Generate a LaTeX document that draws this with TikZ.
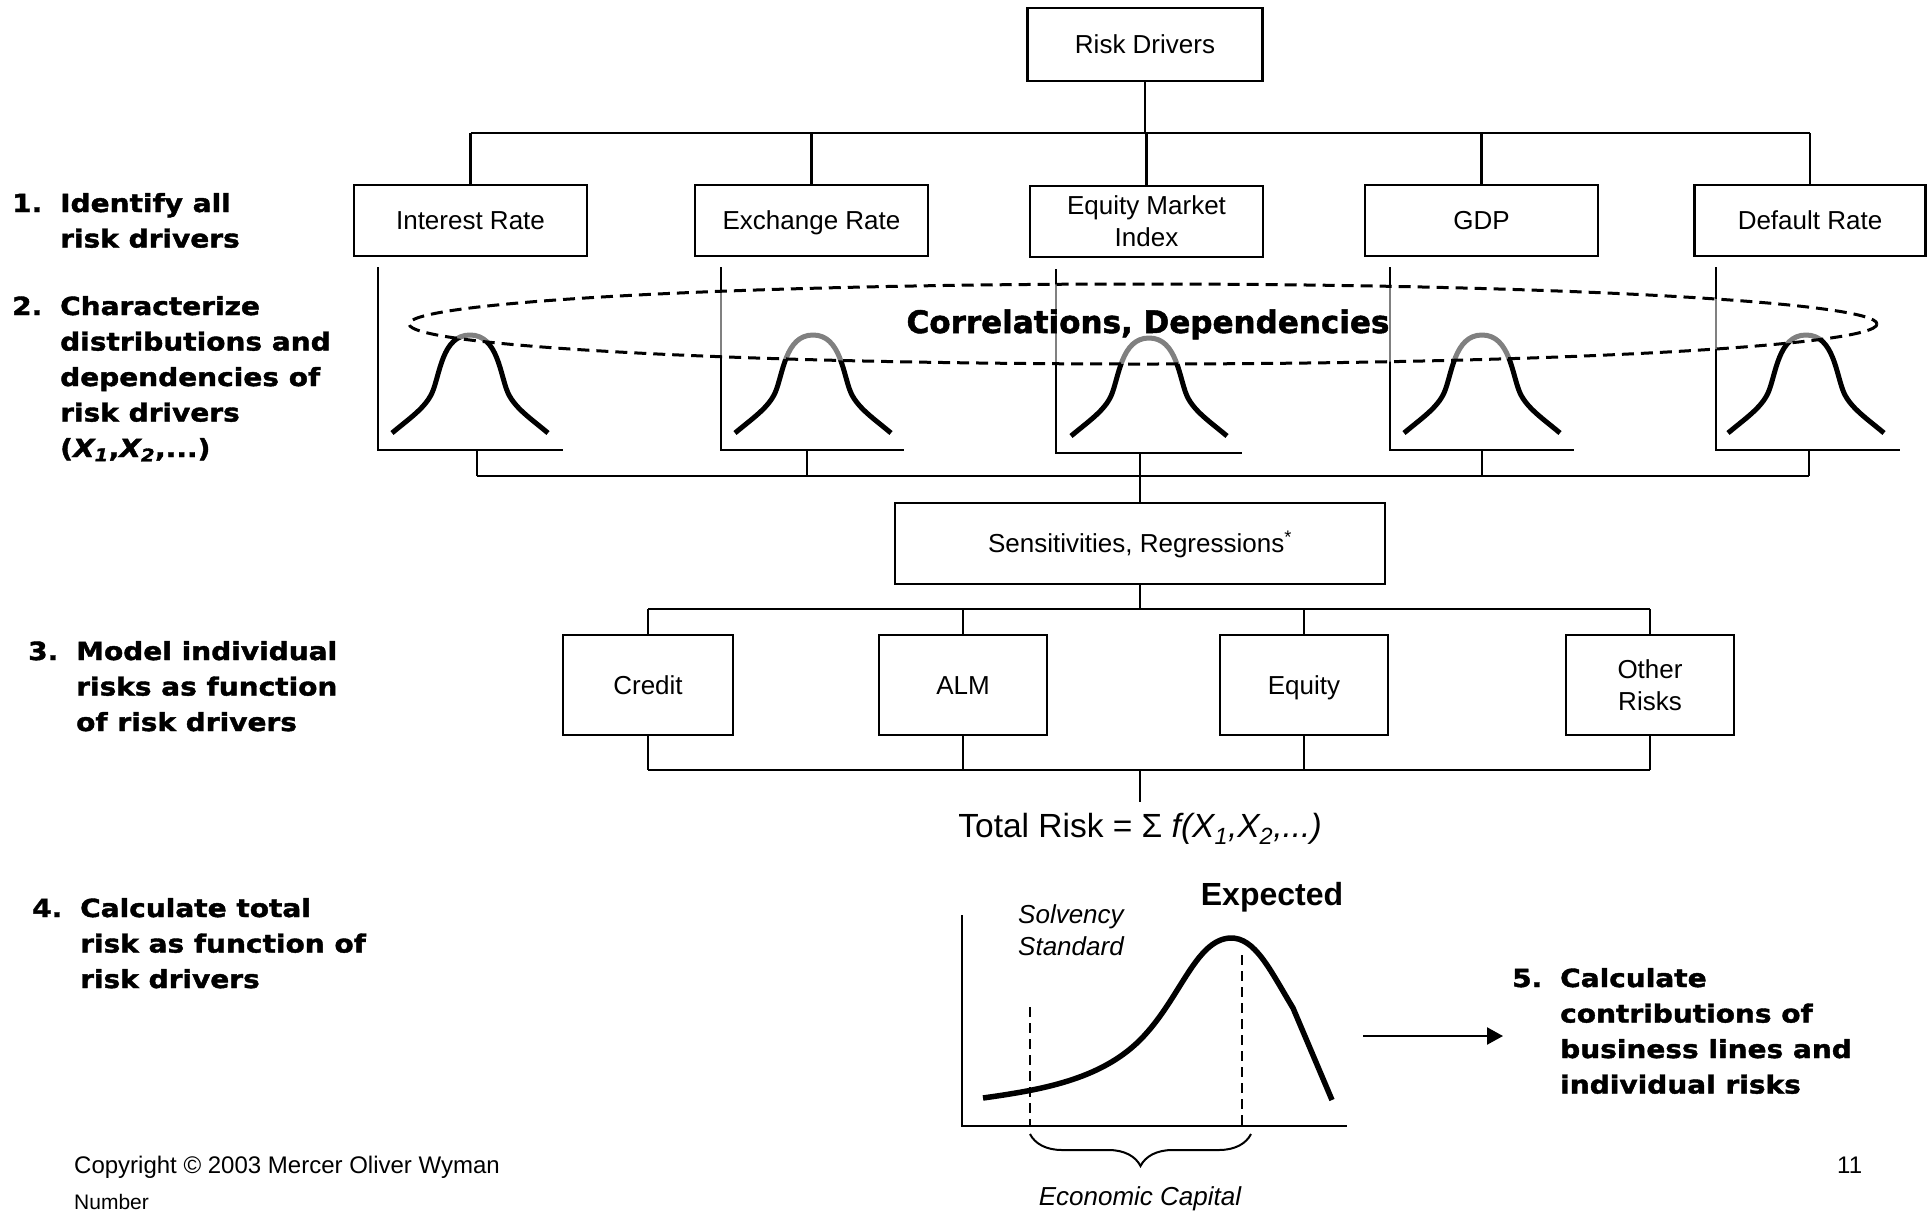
\documentclass[tikz,border=0pt]{standalone}
\usepackage{fontspec}
\setmainfont{Liberation Sans}
\newfontfamily\heavyfont{DejaVu Sans Bold}[ItalicFont={DejaVu Sans Bold Oblique}, FakeStretch=1.12, FakeBold=1.6]
\newfontfamily\corrfont{DejaVu Sans Bold}[FakeBold=1.6]
\usetikzlibrary{decorations.pathreplacing,arrows.meta}
\begin{document}
\begin{tikzpicture}[x=1pt,y=-1pt,
  box/.style={draw, line width=2.6pt, inner sep=0pt, align=center,
    font=\fontsize{26}{32}\selectfont},
  onebox/.style={box, text height=18.6pt, text depth=0pt},
  conn/.style={line width=2.4pt},
  axisline/.style={line width=2.6pt},
  bellline/.style={line width=5pt, line join=round},
  stepitem/.style={anchor=base west, inner sep=0pt,
    font=\heavyfont\fontsize{25}{35.5}\selectfont},
  bell/.pic={\draw[bellline] (-78,0) .. controls (-60,-15) and (-45,-25) .. (-38,-40)
      .. controls (-30,-58) and (-28,-98) .. (0,-98)
      .. controls (28,-98) and (30,-58) .. (38,-40)
      .. controls (45,-25) and (60,-15) .. (78,0);}
]
\useasboundingbox (0,0) rectangle (1928,1211);
\fill[white] (0,0) rectangle (1928,1211);

% ---------- step texts ----------
\node[stepitem] (s1) at (12,212) {\begin{tabular}[t]{@{}l@{}l@{}}\makebox[48pt][l]{1.}&Identify all\\&risk drivers\end{tabular}};
\node[stepitem] (s2) at (12,315) {\begin{tabular}[t]{@{}l@{}l@{}}\makebox[48pt][l]{2.}&Characterize\\&distributions and\\&dependencies of\\&risk drivers\\&(\textit{X\textsubscript{1}},\textit{X\textsubscript{2}},...)\end{tabular}};
\node[stepitem] (s3) at (28,660) {\begin{tabular}[t]{@{}l@{}l@{}}\makebox[48pt][l]{3.}&Model individual\\&risks as function\\&of risk drivers\end{tabular}};
\node[stepitem] (s4) at (32,917) {\begin{tabular}[t]{@{}l@{}l@{}}\makebox[48pt][l]{4.}&Calculate total\\&risk as function of\\&risk drivers\end{tabular}};
\node[stepitem] (s5) at (1512,987) {\begin{tabular}[t]{@{}l@{}l@{}}\makebox[48pt][l]{5.}&Calculate\\&contributions of\\&business lines and\\&individual risks\end{tabular}};

% ---------- top tree ----------
\node[onebox, minimum width=235pt, minimum height=73pt] (rd) at (1145,44.5) {Risk Drivers};
\node[onebox, minimum width=233pt, minimum height=71pt] (ir) at (470.5,220.5) {Interest Rate};
\node[onebox, minimum width=233pt, minimum height=71pt] (er) at (811.5,220.5) {Exchange Rate};
\node[box, minimum width=233pt, minimum height=71pt] (em) at (1146.5,221.5) {Equity Market\\Index};
\node[onebox, minimum width=233pt, minimum height=71pt] (gdp) at (1481.5,220.5) {GDP};
\node[onebox, minimum width=231pt, minimum height=71pt] (dr) at (1810,220.5) {Default Rate};

\coordinate (bus1) at (1145,133);
\draw[conn] (rd.south) -- (rd.south |- bus1);
\draw[conn] (ir.north |- bus1) -- (dr.north |- bus1);
\foreach \n in {ir,er,em,gdp,dr} \draw[conn] (\n.north) -- (\n.north |- bus1);

% ---------- distributions ----------
\draw[axisline] (378,267) -- (378,450) -- (563,450);
\draw[axisline] (721,267) -- (721,450) -- (904,450);
\draw[axisline] (1056,269) -- (1056,453) -- (1242,453);
\draw[axisline] (1390,267) -- (1390,450) -- (1574,450);
\draw[axisline] (1716,267) -- (1716,450) -- (1900,450);
\pic at (470,433) {bell};
\pic at (813,433) {bell};
\pic at (1149,436) {bell};
\pic at (1482,433) {bell};
\pic at (1806,433) {bell};

\draw[line width=3pt, dash pattern=on 12pt off 7pt, fill=white, fill opacity=0.5]
  (1143,324) ellipse [x radius=734, y radius=40];
\node[anchor=base, inner sep=0pt, font=\corrfont\fontsize{31}{36}\selectfont]
  (corr) at (1148,333) {Correlations, Dependencies};

\coordinate (a1) at (477,450);
\coordinate (a2) at (807,450);
\coordinate (a3) at (1140,453);
\coordinate (a4) at (1482,450);
\coordinate (a5) at (1809,450);
\coordinate (bus2) at (1140,476);
\foreach \n in {a1,a2,a3,a4,a5} \draw[conn] (\n) -- (\n |- bus2);
\draw[conn] (a1 |- bus2) -- (a5 |- bus2);

% ---------- sensitivities ----------
\node[onebox, minimum width=490pt, minimum height=81pt] (sens) at (1140,543.5) {Sensitivities, Regressions\textsuperscript{*}};
\draw[conn] (bus2) -- (sens.north);

\node[onebox, minimum width=170pt, minimum height=100pt] (cr) at (648,685) {Credit};
\node[onebox, minimum width=168pt, minimum height=100pt] (alm) at (963,685) {ALM};
\node[onebox, minimum width=168pt, minimum height=100pt] (eq) at (1304,685) {Equity};
\node[box, minimum width=168pt, minimum height=100pt] (oth) at (1650,685) {Other\\Risks};

\coordinate (bus3) at (1140,609);
\draw[conn] (sens.south) -- (sens.south |- bus3);
\draw[conn] (cr.north |- bus3) -- (oth.north |- bus3);
\foreach \n in {cr,alm,eq,oth} \draw[conn] (\n.north) -- (\n.north |- bus3);

\coordinate (bus4) at (1140,770);
\foreach \n in {cr,alm,eq,oth} \draw[conn] (\n.south) -- (\n.south |- bus4);
\draw[conn] (cr.south |- bus4) -- (oth.south |- bus4);

\node[anchor=base, inner sep=0pt, font=\fontsize{33.5}{40}\selectfont] (tot) at (1140,837)
  {Total Risk = Σ {\itshape f(X\textsubscript{1},X\textsubscript{2},...)}};
\coordinate (totc) at (1140,802);
\draw[conn] (bus4) -- (totc);

% ---------- total distribution ----------
\draw[axisline] (962,915) -- (962,1126) -- (1347,1126);
\draw[line width=5.5pt, line join=round] (983,1098) .. controls (1040,1090) and (1100,1080) .. (1140,1040)
  .. controls (1180,1000) and (1195,940) .. (1230,938)
  .. controls (1255,937) and (1270,970) .. (1293,1008) -- (1332,1100);
\draw[line width=2.2pt, dash pattern=on 10pt off 6pt] (1030,1007) -- (1030,1126);
\draw[line width=2.2pt, dash pattern=on 10pt off 6pt] (1242,955) -- (1242,1126);
\draw[line width=2pt, decorate, decoration={brace, mirror, amplitude=32pt}] (1030,1134) -- (1251,1134);

\node[anchor=base west, inner sep=0pt, font=\itshape\fontsize{26}{32}\selectfont] (solv) at (1018,923)
  {\begin{tabular}[t]{@{}l@{}}Solvency\\Standard\end{tabular}};
\node[anchor=base, inner sep=0pt, font=\bfseries\fontsize{32}{38}\selectfont] (exp) at (1272,905) {Expected};
\node[anchor=base, inner sep=0pt, font=\itshape\fontsize{26}{32}\selectfont] (ec) at (1140,1205) {Economic Capital};

\coordinate (arrS) at (1363,1036);
\coordinate (arrE) at (1503,1036);
\draw[conn, -{Triangle[length=16pt, width=17pt]}] (arrS) -- (arrE);

% ---------- footer ----------
\node[anchor=base west, inner sep=0pt, font=\fontsize{24}{28}\selectfont] (copy) at (74,1173) {Copyright © 2003 Mercer Oliver Wyman};
\node[anchor=base west, inner sep=0pt, font=\fontsize{21}{25}\selectfont] (num) at (74,1209) {Number};
\node[anchor=base west, inner sep=0pt, font=\fontsize{24}{28}\selectfont] (pg) at (1837,1173) {11};
\end{tikzpicture}
\end{document}
